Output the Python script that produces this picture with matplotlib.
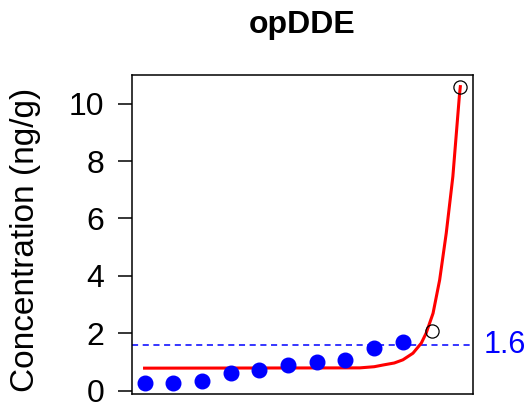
import matplotlib.pyplot as plt

# ---- data ----
sample_idx = [1, 2, 3, 4, 5, 6, 7, 8, 9, 10]
conc_ok = [0.29, 0.29, 0.36, 0.62, 0.71, 0.89, 1.01, 1.07, 1.49, 1.71]

outlier_idx = [11, 12]
conc_out = [2.07, 10.59]

# fitted curve (red), read at a handful of points
fit_x = [1.0, 8.5, 9.0, 9.31, 9.7, 10.0, 10.35, 10.64, 10.81, 11.05, 11.28,
         11.51, 11.74, 11.97, 12.0]
fit_y = [0.79, 0.80, 0.84, 0.90, 0.97, 1.08, 1.31, 1.66, 2.01, 2.70, 3.86,
         5.49, 7.46, 10.30, 10.59]

threshold = 1.6

plt.rcParams['font.family'] = ['Liberation Sans', 'DejaVu Sans']

fig = plt.figure(figsize=(5.32, 4.09), dpi=100)
ax = fig.add_axes([0.248, 0.037, 0.641, 0.780])

ax.axhline(threshold, color='blue', linestyle=(0, (4, 3)), linewidth=1.1, zorder=1)
ax.plot(fit_x, fit_y, color='red', linewidth=2.2, zorder=2)
ax.plot(sample_idx, conc_ok, 'o', color='blue', markersize=10.5, zorder=3)
ax.plot(outlier_idx, conc_out, 'o', markerfacecolor='none', markeredgecolor='black',
        markeredgewidth=0.9, markersize=9.5, zorder=4)

ax.set_xlim(0.56, 12.44)
ax.set_ylim(-0.105, 11.0)
ax.set_xticks([])
ax.set_yticks([0, 2, 4, 6, 8, 10])
ax.tick_params(axis='y', labelsize=23, length=10, width=1.1, pad=10)
for s in ax.spines.values():
    s.set_linewidth(1.1)

fig.text(26 / 532, 1 - 240 / 409, 'Concentration (ng/g)', fontsize=24,
         rotation=90, ha='center', va='center')
ax.set_title('opDDE', fontsize=23, fontweight='bold', pad=30)

ax.text(1.03, threshold, f'{threshold:g}', transform=ax.get_yaxis_transform(),
        color='blue', fontsize=22, va='center', ha='left')

fig.savefig('out.png', dpi=100)
